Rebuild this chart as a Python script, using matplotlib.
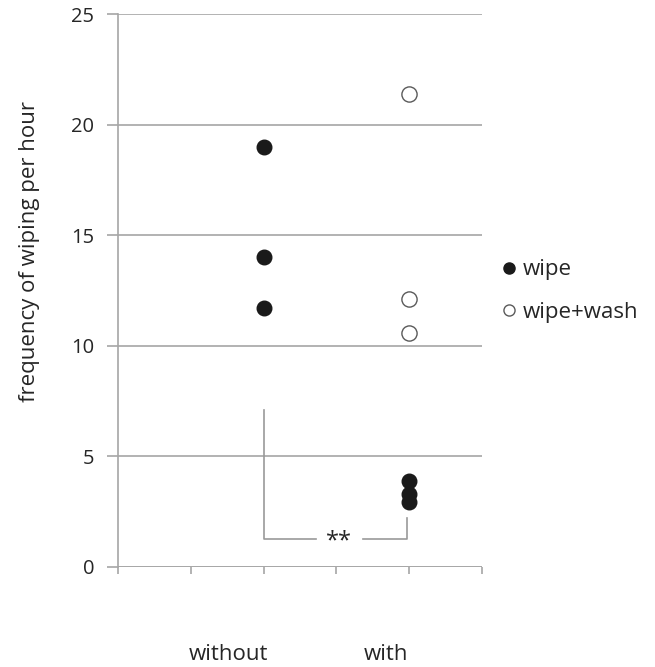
import matplotlib
matplotlib.use("Agg")
import matplotlib.pyplot as plt
from matplotlib.lines import Line2D

plt.rcParams['font.family'] = ['Open Sans', 'DejaVu Sans']

# Data
categories = ["without", "with"]
cat_pos = [2, 4]
without_wipe = [19.0, 14.0, 11.7]
with_wipe = [3.9, 3.3, 2.95]
with_wipe_wash = [21.4, 12.1, 10.6]
yticks = [0, 5, 10, 15, 20, 25]
legend_labels = ["wipe", "wipe+wash"]
sig_label = "**"

grid_c = "#a6a6a6"
txt_c = "#262626"

fig = plt.figure(figsize=(6.55, 6.67), dpi=100)
ax = fig.add_axes([118/655, 1-567/667, (482-118)/655, (567-14)/667])

ax.set_xlim(0, 5)
ax.set_ylim(0, 25)
ax.set_yticks(yticks)
ax.set_xticks(range(6))
ax.set_xticklabels([])
ax.yaxis.grid(True, color=grid_c, linewidth=1.2)
ax.set_axisbelow(True)
for s in ["top", "right", "bottom"]:
    ax.spines[s].set_visible(False)
ax.spines["left"].set_color(grid_c)
ax.spines["left"].set_linewidth(1.2)
ax.axhline(0, color=grid_c, linewidth=1.2, zorder=1)
ax.tick_params(axis="y", length=8, color=grid_c, width=1.2, labelsize=14.5,
               labelcolor=txt_c, pad=9)
ax.tick_params(axis="x", length=5, color=grid_c, width=1.2)

ax.set_ylabel("frequency of wiping per hour", fontsize=16, color=txt_c)
ax.yaxis.set_label_coords(-0.214, 0.57)

# Points
ax.scatter([cat_pos[0]]*len(without_wipe), without_wipe, s=110, color="#1a1a1a", zorder=3)
ax.scatter([cat_pos[1]]*len(with_wipe), with_wipe, s=110, color="#1a1a1a", zorder=3)
ax.scatter([cat_pos[1]]*len(with_wipe_wash), with_wipe_wash, s=120, facecolor="white",
           edgecolor="#5a5a5a", linewidth=1.0, zorder=3)

# Category labels far below axis (offset left of their tick positions, as in the original)
label_x = [228/655, 386/655]
for lx, c in zip(label_x, categories):
    fig.text(lx, 1-655/667, c, ha="center", va="center", fontsize=16, color=txt_c)

# Significance bracket
br_c = "#999999"
ax.plot([2, 2, 2.72], [7.1, 1.27, 1.27], color=br_c, linewidth=1.2, clip_on=False)
ax.plot([3.36, 3.97, 3.97], [1.27, 1.27, 2.2], color=br_c, linewidth=1.2, clip_on=False)
ax.text(3.04, 1.15, sig_label, ha="center", va="center", fontsize=17, color=txt_c)

# Legend
handles = [Line2D([], [], marker="o", linestyle="none", markersize=8,
                  markerfacecolor="#1a1a1a", markeredgecolor="#1a1a1a"),
           Line2D([], [], marker="o", linestyle="none", markersize=8,
                  markerfacecolor="white", markeredgecolor="#5a5a5a")]
fig.legend(handles, legend_labels, loc="center left",
           bbox_to_anchor=(478/655, 1-291/667), frameon=False, fontsize=16,
           handletextpad=0.1, labelspacing=0.95, handlelength=1.0,
           labelcolor=txt_c)

fig.savefig("out.png", dpi=100)
